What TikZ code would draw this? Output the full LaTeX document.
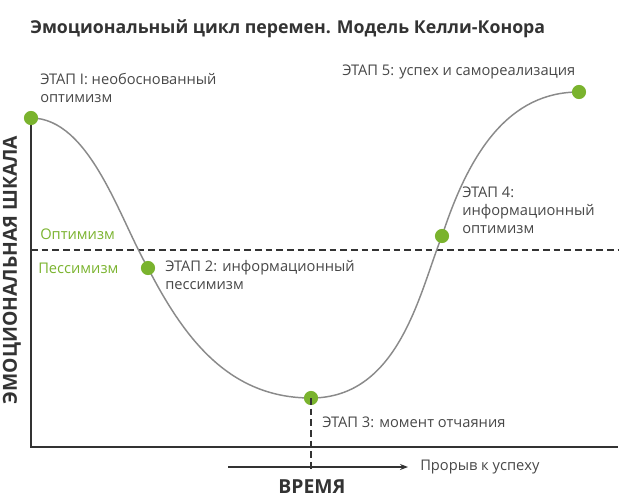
\documentclass[tikz,border=0pt]{standalone}
\usepackage{fontspec}
\setmainfont{Open Sans}
\usetikzlibrary{arrows.meta}
\definecolor{grn}{HTML}{7AB32E}
\definecolor{dk}{HTML}{333333}
\definecolor{crv}{HTML}{8A8A8A}
\begin{document}
\begin{tikzpicture}[x=0.75pt,y=-0.75pt,
  lbl/.style={font=\fontsize{11}{13.5}\selectfont,text=dk!90,align=left,inner sep=0pt},
  gl/.style={font=\fontsize{11}{13}\selectfont,text=grn,inner sep=0pt},
  dsh/.style={dash pattern=on 5pt off 3pt,line width=0.8pt,dk}]
\useasboundingbox (0,0) rectangle (627,500);
\node[anchor=west,font=\bfseries\fontsize{13.3}{15}\selectfont,text=dk,inner sep=0pt] (title) at (30,29) {Эмоциональный цикл перемен. Модель Келли-Конора};
\coordinate (o) at (31,447);
\coordinate (top) at (31,112);
\coordinate (xr) at (618,447);
\draw[dk,line width=1pt] (top) -- (o) -- (xr);
\coordinate (dl) at (31,250); \coordinate (dr) at (618,250);
\draw[dsh] (dl) -- (dr);
\node[rotate=90,font=\bfseries\fontsize{14.5}{16}\selectfont,text=dk,inner sep=0pt] (ylab) at (12,270) {ЭМОЦИОНАЛЬНАЯ ШКАЛА};
\node[gl,anchor=west] (opt) at (40,234) {Оптимизм};
\node[gl,anchor=west] (pes) at (38,268) {Пессимизм};
\coordinate (p1) at (31,118);
\coordinate (p2) at (148,268);
\coordinate (p3) at (311,398);
\coordinate (p4) at (442,236);
\coordinate (p5) at (579,92);
\draw[crv,line width=1.1pt] (p1) .. controls (90,118) and (120,220) .. (p2)
  .. controls (185,340) and (230,398) .. (p3)
  .. controls (400,398) and (420,290) .. (p4)
  .. controls (470,150) and (510,92) .. (p5);
\foreach \p in {p1,p2,p3,p4,p5} \fill[grn] (\p) circle (5.3pt);
\coordinate (vb) at (311,470);
\draw[dsh] (p3) -- (vb);
\coordinate (a1) at (228,467); \coordinate (a2) at (408,467);
\draw[dk,line width=0.8pt,-{Stealth[length=6pt]}] (a1) -- (a2);
\node[lbl,anchor=west] (prorv) at (420,467) {Прорыв к успеху};
\node[font=\bfseries\fontsize{14.5}{16}\selectfont,text=dk,inner sep=0pt] (time) at (312,487) {ВРЕМЯ};
\node[lbl,anchor=north west] (s1) at (40,73) {ЭТАП I: необоснованный\\оптимизм};
\node[lbl,anchor=north west] (s2) at (165,260) {ЭТАП 2: информационный\\пессимизм};
\node[lbl,anchor=west] (s3) at (322,422) {ЭТАП 3: момент отчаяния};
\node[lbl,anchor=north west] (s4) at (462,187) {ЭТАП 4:\\информационный\\оптимизм};
\node[lbl,anchor=west] (s5) at (342,72) {ЭТАП 5: успех и самореализация};
\end{tikzpicture}
\end{document}
